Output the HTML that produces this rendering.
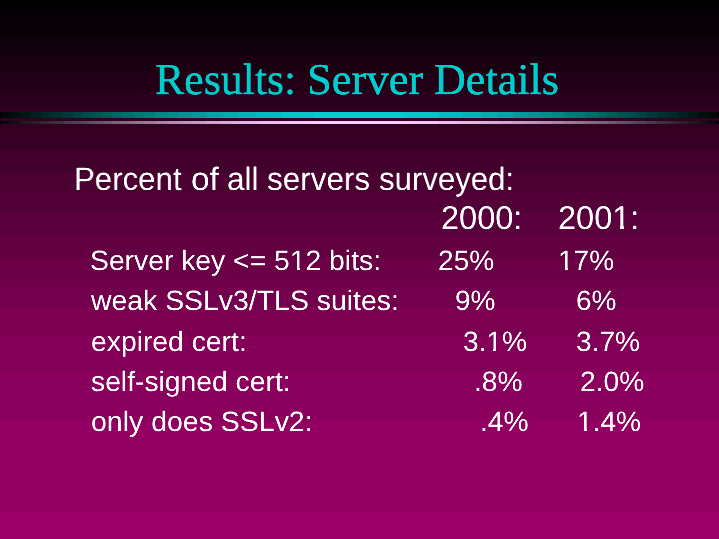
<!DOCTYPE html>
<html><head><meta charset="utf-8">
<title>Results: Server Details</title>
<style>
html,body{margin:0;padding:0;}
body{width:719px;height:539px;overflow:hidden;position:relative;background:#000;}
#bg{position:absolute;left:0;top:0;width:719px;height:539px;}
.bd{position:absolute;left:0;width:719px;}
.t{position:absolute;white-space:pre;line-height:1;transform-origin:0 0;will-change:transform;text-rendering:geometricPrecision;}
.sf{font-family:"Liberation Serif",serif;color:#00cccc;-webkit-text-stroke:0.4px #00cccc;}
.ss{font-family:"Liberation Sans",sans-serif;color:#fff;}
.bb{position:absolute;}
.one{display:inline-block;clip-path:polygon(-0.5em -0.5em,1.5em -0.5em,1.5em 0.70em,0.345em 0.70em,0.345em 1.5em,0.2475em 1.5em,0.2475em 0.70em,-0.5em 0.70em);}
#tx .ln{position:absolute;left:0;top:0;white-space:pre;font-size:0;}
#tx{position:absolute;left:0;top:0;width:719px;height:539px;filter:url(#cr);}
.cv{position:absolute;height:1px;}
</style></head><body>
<div id="bg">
<div class="bd" style="top:0px;height:6px;background:#000000"></div>
<div class="bd" style="top:6px;height:14px;background:#050003"></div>
<div class="bd" style="top:20px;height:18px;background:#080005"></div>
<div class="bd" style="top:38px;height:17px;background:#10000b"></div>
<div class="bd" style="top:55px;height:17px;background:#180010"></div>
<div class="bd" style="top:72px;height:18px;background:#210016"></div>
<div class="bd" style="top:90px;height:17px;background:#29001b"></div>
<div class="bd" style="top:107px;height:22px;background:#310021"></div>
<div class="bd" style="top:129px;height:21px;background:#390026"></div>
<div class="bd" style="top:150px;height:23px;background:#42002c"></div>
<div class="bd" style="top:173px;height:19px;background:#4a0031"></div>
<div class="bd" style="top:192px;height:20px;background:#520037"></div>
<div class="bd" style="top:212px;height:23px;background:#5a003c"></div>
<div class="bd" style="top:235px;height:23px;background:#630042"></div>
<div class="bd" style="top:258px;height:23px;background:#6b0047"></div>
<div class="bd" style="top:281px;height:26px;background:#73004c"></div>
<div class="bd" style="top:307px;height:29px;background:#7b0052"></div>
<div class="bd" style="top:336px;height:35px;background:#840058"></div>
<div class="bd" style="top:371px;height:51px;background:#8c005d"></div>
<div class="bd" style="top:422px;height:90px;background:#940062"></div>
<div class="bd" style="top:512px;height:27px;background:#9c0068"></div>
</div>
<div class="bb" style="left:0px;width:2px;top:112px;height:6px;background:#000000"></div>
<div class="bb" style="left:2px;width:9px;top:112px;height:6px;background:#000808"></div>
<div class="bb" style="left:11px;width:9px;top:112px;height:6px;background:#001010"></div>
<div class="bb" style="left:20px;width:11px;top:112px;height:6px;background:#001818"></div>
<div class="bb" style="left:31px;width:11px;top:112px;height:6px;background:#002121"></div>
<div class="bb" style="left:42px;width:9px;top:112px;height:6px;background:#002929"></div>
<div class="bb" style="left:51px;width:11px;top:112px;height:6px;background:#003131"></div>
<div class="bb" style="left:62px;width:11px;top:112px;height:6px;background:#003939"></div>
<div class="bb" style="left:73px;width:10px;top:112px;height:6px;background:#004242"></div>
<div class="bb" style="left:83px;width:9px;top:112px;height:6px;background:#004a4a"></div>
<div class="bb" style="left:92px;width:10px;top:112px;height:6px;background:#005252"></div>
<div class="bb" style="left:102px;width:10px;top:112px;height:6px;background:#005a5a"></div>
<div class="bb" style="left:112px;width:10px;top:112px;height:6px;background:#006363"></div>
<div class="bb" style="left:122px;width:11px;top:112px;height:6px;background:#006b6b"></div>
<div class="bb" style="left:133px;width:11px;top:112px;height:6px;background:#007373"></div>
<div class="bb" style="left:144px;width:11px;top:112px;height:6px;background:#007b7b"></div>
<div class="bb" style="left:155px;width:12px;top:112px;height:6px;background:#008484"></div>
<div class="bb" style="left:167px;width:12px;top:112px;height:6px;background:#008c8c"></div>
<div class="bb" style="left:179px;width:13px;top:112px;height:6px;background:#009494"></div>
<div class="bb" style="left:192px;width:14px;top:112px;height:6px;background:#009c9c"></div>
<div class="bb" style="left:206px;width:15px;top:112px;height:6px;background:#00a5a5"></div>
<div class="bb" style="left:221px;width:17px;top:112px;height:6px;background:#00adad"></div>
<div class="bb" style="left:238px;width:19px;top:112px;height:6px;background:#00b5b5"></div>
<div class="bb" style="left:257px;width:24px;top:112px;height:6px;background:#00bdbd"></div>
<div class="bb" style="left:281px;width:33px;top:112px;height:6px;background:#00c6c6"></div>
<div class="bb" style="left:314px;width:91px;top:112px;height:6px;background:#00cece"></div>
<div class="bb" style="left:405px;width:33px;top:112px;height:6px;background:#00c6c6"></div>
<div class="bb" style="left:438px;width:24px;top:112px;height:6px;background:#00bdbd"></div>
<div class="bb" style="left:462px;width:19px;top:112px;height:6px;background:#00b5b5"></div>
<div class="bb" style="left:481px;width:17px;top:112px;height:6px;background:#00adad"></div>
<div class="bb" style="left:498px;width:15px;top:112px;height:6px;background:#00a5a5"></div>
<div class="bb" style="left:513px;width:14px;top:112px;height:6px;background:#009c9c"></div>
<div class="bb" style="left:527px;width:13px;top:112px;height:6px;background:#009494"></div>
<div class="bb" style="left:540px;width:12px;top:112px;height:6px;background:#008c8c"></div>
<div class="bb" style="left:552px;width:12px;top:112px;height:6px;background:#008484"></div>
<div class="bb" style="left:564px;width:11px;top:112px;height:6px;background:#007b7b"></div>
<div class="bb" style="left:575px;width:11px;top:112px;height:6px;background:#007373"></div>
<div class="bb" style="left:586px;width:11px;top:112px;height:6px;background:#006b6b"></div>
<div class="bb" style="left:597px;width:10px;top:112px;height:6px;background:#006363"></div>
<div class="bb" style="left:607px;width:10px;top:112px;height:6px;background:#005a5a"></div>
<div class="bb" style="left:617px;width:10px;top:112px;height:6px;background:#005252"></div>
<div class="bb" style="left:627px;width:9px;top:112px;height:6px;background:#004a4a"></div>
<div class="bb" style="left:636px;width:10px;top:112px;height:6px;background:#004242"></div>
<div class="bb" style="left:646px;width:11px;top:112px;height:6px;background:#003939"></div>
<div class="bb" style="left:657px;width:11px;top:112px;height:6px;background:#003131"></div>
<div class="bb" style="left:668px;width:9px;top:112px;height:6px;background:#002929"></div>
<div class="bb" style="left:677px;width:11px;top:112px;height:6px;background:#002121"></div>
<div class="bb" style="left:688px;width:11px;top:112px;height:6px;background:#001818"></div>
<div class="bb" style="left:699px;width:9px;top:112px;height:6px;background:#001010"></div>
<div class="bb" style="left:708px;width:9px;top:112px;height:6px;background:#000808"></div>
<div class="bb" style="left:717px;width:2px;top:112px;height:6px;background:#000000"></div>
<div class="bb" style="left:0px;width:2px;top:121px;height:3px;background:#000000"></div>
<div class="bb" style="left:2px;width:6px;top:121px;height:3px;background:#080808"></div>
<div class="bb" style="left:8px;width:3px;top:121px;height:3px;background:#100810"></div>
<div class="bb" style="left:11px;width:4px;top:121px;height:3px;background:#101010"></div>
<div class="bb" style="left:15px;width:5px;top:121px;height:3px;background:#181018"></div>
<div class="bb" style="left:20px;width:2px;top:121px;height:3px;background:#181818"></div>
<div class="bb" style="left:22px;width:9px;top:121px;height:3px;background:#211821"></div>
<div class="bb" style="left:31px;width:9px;top:121px;height:3px;background:#292129"></div>
<div class="bb" style="left:40px;width:2px;top:121px;height:3px;background:#312131"></div>
<div class="bb" style="left:42px;width:6px;top:121px;height:3px;background:#312931"></div>
<div class="bb" style="left:48px;width:3px;top:121px;height:3px;background:#392939"></div>
<div class="bb" style="left:51px;width:4px;top:121px;height:3px;background:#393139"></div>
<div class="bb" style="left:55px;width:7px;top:121px;height:3px;background:#423142"></div>
<div class="bb" style="left:62px;width:2px;top:121px;height:3px;background:#423942"></div>
<div class="bb" style="left:64px;width:9px;top:121px;height:3px;background:#4a394a"></div>
<div class="bb" style="left:73px;width:8px;top:121px;height:3px;background:#524252"></div>
<div class="bb" style="left:81px;width:2px;top:121px;height:3px;background:#5a425a"></div>
<div class="bb" style="left:83px;width:5px;top:121px;height:3px;background:#5a4a5a"></div>
<div class="bb" style="left:88px;width:4px;top:121px;height:3px;background:#634a63"></div>
<div class="bb" style="left:92px;width:4px;top:121px;height:3px;background:#635263"></div>
<div class="bb" style="left:96px;width:6px;top:121px;height:3px;background:#6b526b"></div>
<div class="bb" style="left:102px;width:2px;top:121px;height:3px;background:#6b5a6b"></div>
<div class="bb" style="left:104px;width:8px;top:121px;height:3px;background:#735a73"></div>
<div class="bb" style="left:112px;width:8px;top:121px;height:3px;background:#7b637b"></div>
<div class="bb" style="left:120px;width:2px;top:121px;height:3px;background:#846384"></div>
<div class="bb" style="left:122px;width:7px;top:121px;height:3px;background:#846b84"></div>
<div class="bb" style="left:129px;width:4px;top:121px;height:3px;background:#8c6b8c"></div>
<div class="bb" style="left:133px;width:4px;top:121px;height:3px;background:#8c738c"></div>
<div class="bb" style="left:137px;width:7px;top:121px;height:3px;background:#947394"></div>
<div class="bb" style="left:144px;width:2px;top:121px;height:3px;background:#947b94"></div>
<div class="bb" style="left:146px;width:9px;top:121px;height:3px;background:#9c7b9c"></div>
<div class="bb" style="left:155px;width:10px;top:121px;height:3px;background:#a584a5"></div>
<div class="bb" style="left:165px;width:2px;top:121px;height:3px;background:#ad84ad"></div>
<div class="bb" style="left:167px;width:7px;top:121px;height:3px;background:#ad8cad"></div>
<div class="bb" style="left:174px;width:5px;top:121px;height:3px;background:#b58cb5"></div>
<div class="bb" style="left:179px;width:5px;top:121px;height:3px;background:#b594b5"></div>
<div class="bb" style="left:184px;width:8px;top:121px;height:3px;background:#bd94bd"></div>
<div class="bb" style="left:192px;width:3px;top:121px;height:3px;background:#bd9cbd"></div>
<div class="bb" style="left:195px;width:11px;top:121px;height:3px;background:#c69cc6"></div>
<div class="bb" style="left:206px;width:12px;top:121px;height:3px;background:#cea5ce"></div>
<div class="bb" style="left:218px;width:3px;top:121px;height:3px;background:#d6a5d6"></div>
<div class="bb" style="left:221px;width:10px;top:121px;height:3px;background:#d6add6"></div>
<div class="bb" style="left:231px;width:7px;top:121px;height:3px;background:#deadde"></div>
<div class="bb" style="left:238px;width:7px;top:121px;height:3px;background:#deb5de"></div>
<div class="bb" style="left:245px;width:12px;top:121px;height:3px;background:#e7b5e7"></div>
<div class="bb" style="left:257px;width:5px;top:121px;height:3px;background:#e7bde7"></div>
<div class="bb" style="left:262px;width:19px;top:121px;height:3px;background:#efbdef"></div>
<div class="bb" style="left:281px;width:25px;top:121px;height:3px;background:#f7c6f7"></div>
<div class="bb" style="left:306px;width:8px;top:121px;height:3px;background:#ffc6ff"></div>
<div class="bb" style="left:314px;width:91px;top:121px;height:3px;background:#ffceff"></div>
<div class="bb" style="left:405px;width:8px;top:121px;height:3px;background:#ffc6ff"></div>
<div class="bb" style="left:413px;width:25px;top:121px;height:3px;background:#f7c6f7"></div>
<div class="bb" style="left:438px;width:19px;top:121px;height:3px;background:#efbdef"></div>
<div class="bb" style="left:457px;width:5px;top:121px;height:3px;background:#e7bde7"></div>
<div class="bb" style="left:462px;width:12px;top:121px;height:3px;background:#e7b5e7"></div>
<div class="bb" style="left:474px;width:7px;top:121px;height:3px;background:#deb5de"></div>
<div class="bb" style="left:481px;width:7px;top:121px;height:3px;background:#deadde"></div>
<div class="bb" style="left:488px;width:10px;top:121px;height:3px;background:#d6add6"></div>
<div class="bb" style="left:498px;width:3px;top:121px;height:3px;background:#d6a5d6"></div>
<div class="bb" style="left:501px;width:12px;top:121px;height:3px;background:#cea5ce"></div>
<div class="bb" style="left:513px;width:11px;top:121px;height:3px;background:#c69cc6"></div>
<div class="bb" style="left:524px;width:3px;top:121px;height:3px;background:#bd9cbd"></div>
<div class="bb" style="left:527px;width:8px;top:121px;height:3px;background:#bd94bd"></div>
<div class="bb" style="left:535px;width:5px;top:121px;height:3px;background:#b594b5"></div>
<div class="bb" style="left:540px;width:5px;top:121px;height:3px;background:#b58cb5"></div>
<div class="bb" style="left:545px;width:7px;top:121px;height:3px;background:#ad8cad"></div>
<div class="bb" style="left:552px;width:2px;top:121px;height:3px;background:#ad84ad"></div>
<div class="bb" style="left:554px;width:10px;top:121px;height:3px;background:#a584a5"></div>
<div class="bb" style="left:564px;width:9px;top:121px;height:3px;background:#9c7b9c"></div>
<div class="bb" style="left:573px;width:2px;top:121px;height:3px;background:#947b94"></div>
<div class="bb" style="left:575px;width:7px;top:121px;height:3px;background:#947394"></div>
<div class="bb" style="left:582px;width:4px;top:121px;height:3px;background:#8c738c"></div>
<div class="bb" style="left:586px;width:4px;top:121px;height:3px;background:#8c6b8c"></div>
<div class="bb" style="left:590px;width:7px;top:121px;height:3px;background:#846b84"></div>
<div class="bb" style="left:597px;width:2px;top:121px;height:3px;background:#846384"></div>
<div class="bb" style="left:599px;width:8px;top:121px;height:3px;background:#7b637b"></div>
<div class="bb" style="left:607px;width:8px;top:121px;height:3px;background:#735a73"></div>
<div class="bb" style="left:615px;width:2px;top:121px;height:3px;background:#6b5a6b"></div>
<div class="bb" style="left:617px;width:6px;top:121px;height:3px;background:#6b526b"></div>
<div class="bb" style="left:623px;width:4px;top:121px;height:3px;background:#635263"></div>
<div class="bb" style="left:627px;width:4px;top:121px;height:3px;background:#634a63"></div>
<div class="bb" style="left:631px;width:5px;top:121px;height:3px;background:#5a4a5a"></div>
<div class="bb" style="left:636px;width:2px;top:121px;height:3px;background:#5a425a"></div>
<div class="bb" style="left:638px;width:8px;top:121px;height:3px;background:#524252"></div>
<div class="bb" style="left:646px;width:9px;top:121px;height:3px;background:#4a394a"></div>
<div class="bb" style="left:655px;width:2px;top:121px;height:3px;background:#423942"></div>
<div class="bb" style="left:657px;width:7px;top:121px;height:3px;background:#423142"></div>
<div class="bb" style="left:664px;width:4px;top:121px;height:3px;background:#393139"></div>
<div class="bb" style="left:668px;width:3px;top:121px;height:3px;background:#392939"></div>
<div class="bb" style="left:671px;width:6px;top:121px;height:3px;background:#312931"></div>
<div class="bb" style="left:677px;width:2px;top:121px;height:3px;background:#312131"></div>
<div class="bb" style="left:679px;width:9px;top:121px;height:3px;background:#292129"></div>
<div class="bb" style="left:688px;width:9px;top:121px;height:3px;background:#211821"></div>
<div class="bb" style="left:697px;width:2px;top:121px;height:3px;background:#181818"></div>
<div class="bb" style="left:699px;width:5px;top:121px;height:3px;background:#181018"></div>
<div class="bb" style="left:704px;width:4px;top:121px;height:3px;background:#101010"></div>
<div class="bb" style="left:708px;width:3px;top:121px;height:3px;background:#100810"></div>
<div class="bb" style="left:711px;width:6px;top:121px;height:3px;background:#080808"></div>
<div class="bb" style="left:717px;width:2px;top:121px;height:3px;background:#000000"></div>
<svg width="0" height="0" style="position:absolute"><filter id="cr" x="0" y="0" width="100%" height="100%" color-interpolation-filters="sRGB"><feComponentTransfer><feFuncA type="linear" slope="1.5" intercept="-0.25"/></feComponentTransfer></filter></svg>
<div id="tx">
<div class="ln"><span class="t sf" style="left:154.61px;top:58.0px;font-size:44px;transform:scale(0.9956,1.0);">Results:</span> <span class="t sf" style="left:306.76px;top:58.0px;font-size:44px;transform:scale(1.0128,1.0);">Server</span> <span class="t sf" style="left:433.77px;top:58.0px;font-size:44px;transform:scale(1.0021,1.0);">Details</span></div>
<div class="ln"><span class="t ss" style="left:73.51px;top:163.0px;font-size:32px;transform:scale(0.9754,1.015);">Percent</span> <span class="t ss" style="left:190.73px;top:163.0px;font-size:32px;transform:scale(1.043,1.015);">of</span> <span class="t ss" style="left:226.67px;top:163.0px;font-size:32px;transform:scale(0.9809,1.015);">all</span> <span class="t ss" style="left:266.93px;top:163.0px;font-size:32px;transform:scale(0.9823,1.015);">servers</span> <span class="t ss" style="left:378.84px;top:163.0px;font-size:32px;transform:scale(0.9734,1.015);">surveyed:</span></div>
<div class="t ss" style="left:441.43px;top:201.0px;font-size:32px;transform:scale(1.0166,1.03);">2000:</div>
<div class="t ss" style="left:558.43px;top:201.0px;font-size:32px;transform:scale(1.0166,1.03);">2001:</div>
<div class="t ss" style="left:90.41px;top:247.0px;font-size:28px;transform:scale(1.0107,1.0);">Server key &lt;= 512 bits:</div>
<div class="t ss" style="left:90.74px;top:287.0px;font-size:28px;transform:scale(1.0142,1.0);">weak SSLv3/TLS suites:</div>
<div class="t ss" style="left:90.8px;top:328.0px;font-size:28px;transform:scale(1.011,1.0);">expired cert:</div>
<div class="t ss" style="left:91.09px;top:368.0px;font-size:28px;transform:scale(1.0099,1.0);">self-signed cert:</div>
<div class="t ss" style="left:90.81px;top:408.0px;font-size:28px;transform:scale(1.017,1.0);">only does SSLv2:</div>
<div class="t ss" style="left:437.64px;top:247.0px;font-size:28px;transform:scale(1.0039,1.0);">25%</div>
<div class="t ss" style="left:558.32px;top:247.0px;font-size:28px;transform:scale(0.9995,1.0);">17%</div>
<div class="t ss" style="left:454.67px;top:287.0px;font-size:28px;transform:scale(0.9979,1.0);">9%</div>
<div class="t ss" style="left:575.61px;top:287.0px;font-size:28px;transform:scale(0.9993,1.0);">6%</div>
<div class="t ss" style="left:462.82px;top:328.0px;font-size:28px;transform:scale(1.0049,1.0);">3.1%</div>
<div class="t ss" style="left:575.82px;top:328.0px;font-size:28px;transform:scale(1.0049,1.0);">3.7%</div>
<div class="t ss" style="left:474.48px;top:368.0px;font-size:28px;transform:scale(1.008,1.0);">.8%</div>
<div class="t ss" style="left:579.64px;top:368.0px;font-size:28px;transform:scale(1.0078,1.0);">2.0%</div>
<div class="t ss" style="left:480.48px;top:408.0px;font-size:28px;transform:scale(1.008,1.0);">.4%</div>
<div class="t ss" style="left:577.31px;top:408.0px;font-size:28px;transform:scale(1.004,1.0);">1.4%</div>
</div>
<div id="cov">
<div class="cv" style="left:614px;top:226px;width:6px;background:#5a003c"></div>
<div class="cv" style="left:624px;top:226px;width:7px;background:#5a003c"></div>
<div class="cv" style="left:614px;top:227px;width:6px;background:#5a003c"></div>
<div class="cv" style="left:624px;top:227px;width:7px;background:#5a003c"></div>
<div class="cv" style="left:614px;top:228px;width:6px;background:#5a003c"></div>
<div class="cv" style="left:624px;top:228px;width:7px;background:#5a003c"></div>
<div class="cv" style="left:291px;top:268px;width:6px;background:#6b0047"></div>
<div class="cv" style="left:300px;top:268px;width:6px;background:#6b0047"></div>
<div class="cv" style="left:291px;top:269px;width:6px;background:#6b0047"></div>
<div class="cv" style="left:300px;top:269px;width:6px;background:#6b0047"></div>
<div class="cv" style="left:559px;top:268px;width:6px;background:#6b0047"></div>
<div class="cv" style="left:568px;top:268px;width:6px;background:#6b0047"></div>
<div class="cv" style="left:559px;top:269px;width:6px;background:#6b0047"></div>
<div class="cv" style="left:568px;top:269px;width:6px;background:#6b0047"></div>
<div class="cv" style="left:487px;top:349px;width:6px;background:#840058"></div>
<div class="cv" style="left:496px;top:349px;width:6px;background:#840058"></div>
<div class="cv" style="left:487px;top:350px;width:6px;background:#840058"></div>
<div class="cv" style="left:496px;top:350px;width:6px;background:#840058"></div>
<div class="cv" style="left:578px;top:429px;width:6px;background:#940062"></div>
<div class="cv" style="left:587px;top:429px;width:6px;background:#940062"></div>
<div class="cv" style="left:578px;top:430px;width:6px;background:#940062"></div>
<div class="cv" style="left:587px;top:430px;width:6px;background:#940062"></div>
</div>
</body></html>
